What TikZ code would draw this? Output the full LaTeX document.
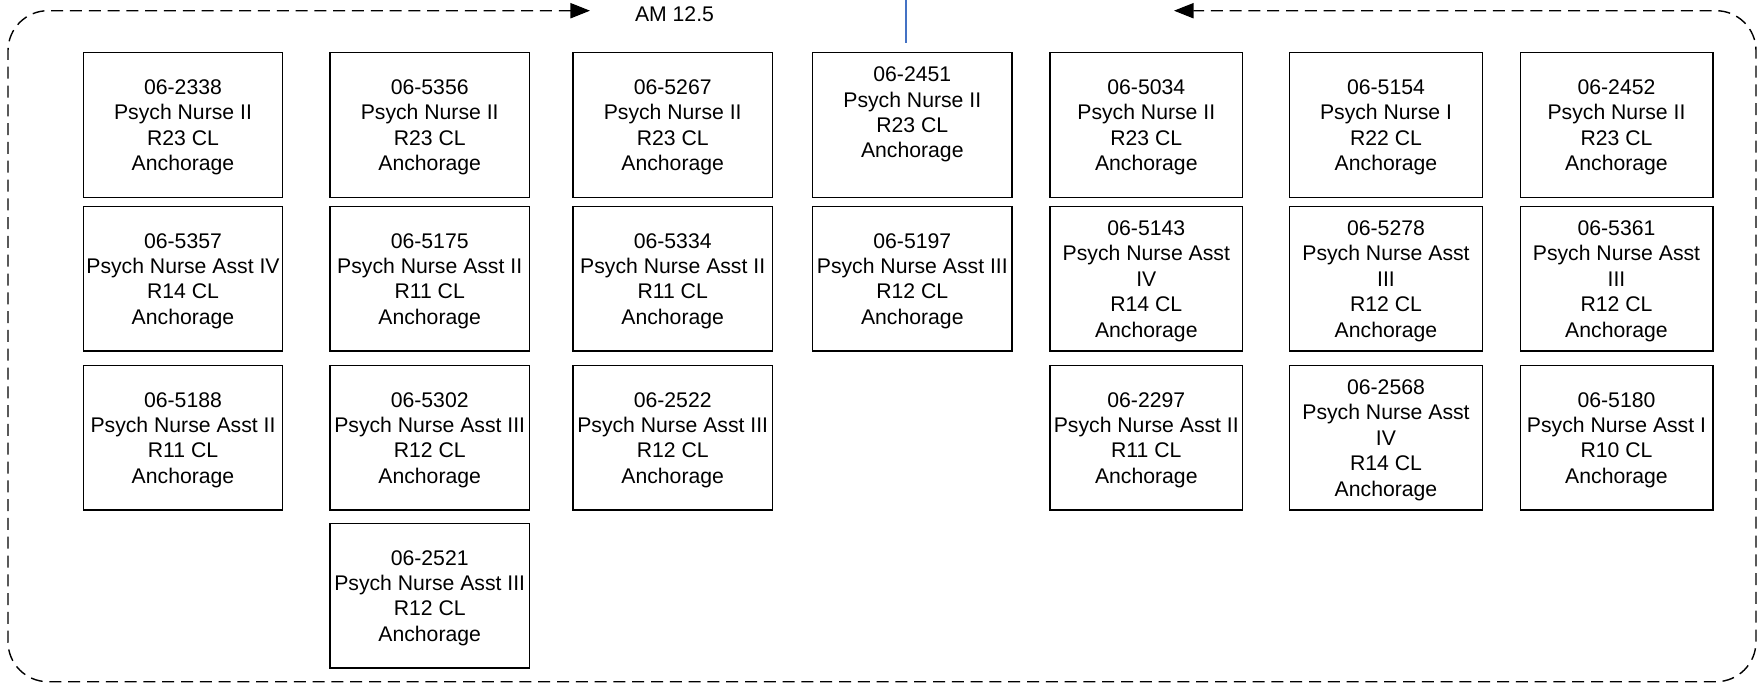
\documentclass[tikz,border=0pt]{standalone}
\usepackage{fontspec}
\setmainfont{Liberation Sans}
\usepackage{tikz}
\usetikzlibrary{shapes,arrows.meta}
\definecolor{feedBlue}{RGB}{68,114,196}
\definecolor{boxBlack}{RGB}{0,0,0}

\begin{document}
\begin{tikzpicture}[x=0.5pt, y=-0.5pt]%
  \tikzset{pos box/.style={draw=boxBlack, rectangle, line width=0.7pt, minimum width=99.7pt, minimum height=72.3pt, align=center, inner sep=0pt, text depth=0pt},
           narrow box/.style={pos box, minimum width=96.3pt},
           group line/.style={draw, dash pattern=on 6pt off 3.4pt, line width=0.7pt, rounded corners=20pt, {Triangle[length=9.8pt,width=7.6pt]}-{Triangle[length=9.8pt,width=7.6pt]}},
           feed line/.style={draw, feedBlue, line width=0.6pt}}
  \tikzstyle{every node}=[font=\fontsize{10.6pt}{12.7pt}\selectfont]

  \useasboundingbox (0,0) rectangle (1758,687);

  % column 1
  \node[pos box] at (183,125) (p2338) {06-2338\\Psych Nurse II\\R23 CL\\Anchorage};
  \node[pos box] at (183,278.8) (p5357) {06-5357\\Psych Nurse Asst IV\\R14 CL\\Anchorage};
  \node[pos box] at (183,437.8) (p5188) {06-5188\\Psych Nurse Asst II\\R11 CL\\Anchorage};

  % column 2
  \node[pos box] at (429.7,125) (p5356) {06-5356\\Psych Nurse II\\R23 CL\\Anchorage};
  \node[pos box] at (429.7,278.8) (p5175) {06-5175\\Psych Nurse Asst II\\R11 CL\\Anchorage};
  \node[pos box] at (429.7,437.8) (p5302) {06-5302\\Psych Nurse Asst III\\R12 CL\\Anchorage};
  \node[pos box] at (429.7,595.8) (p2521) {06-2521\\Psych Nurse Asst III\\R12 CL\\Anchorage};

  % column 3
  \node[pos box] at (672.7,125) (p5267) {06-5267\\Psych Nurse II\\R23 CL\\Anchorage};
  \node[pos box] at (672.7,278.8) (p5334) {06-5334\\Psych Nurse Asst II\\R11 CL\\Anchorage};
  \node[pos box] at (672.7,437.8) (p2522) {06-2522\\Psych Nurse Asst III\\R12 CL\\Anchorage};

  % column 4
  \node[pos box] at (912.3,125) (p2451) {06-2451\\Psych Nurse II\\R23 CL\\Anchorage\\~};
  \node[pos box] at (912.3,278.8) (p5197) {06-5197\\Psych Nurse Asst III\\R12 CL\\Anchorage};

  % column 5
  \node[narrow box] at (1146.3,125) (p5034) {06-5034\\Psych Nurse II\\R23 CL\\Anchorage};
  \node[narrow box] at (1146.3,278.8) (p5143) {06-5143\\Psych Nurse Asst\\IV\\R14 CL\\Anchorage};
  \node[narrow box] at (1146.3,437.8) (p2297) {06-2297\\Psych Nurse Asst II\\R11 CL\\Anchorage};

  % column 6
  \node[narrow box] at (1386,125) (p5154) {06-5154\\Psych Nurse I\\R22 CL\\Anchorage};
  \node[narrow box] at (1386,278.8) (p5278) {06-5278\\Psych Nurse Asst\\III\\R12 CL\\Anchorage};
  \node[narrow box] at (1386,437.8) (p2568) {06-2568\\Psych Nurse Asst\\IV\\R14 CL\\Anchorage};

  % column 7
  \node[narrow box] at (1616.5,125) (p2452) {06-2452\\Psych Nurse II\\R23 CL\\Anchorage};
  \node[narrow box] at (1616.5,278.8) (p5361) {06-5361\\Psych Nurse Asst\\III\\R12 CL\\Anchorage};
  \node[narrow box] at (1616.5,437.8) (p5180) {06-5180\\Psych Nurse Asst I\\R10 CL\\Anchorage};

  % group label and frame
  \node[anchor=base] at (674.5,21) (amlabel) {AM 12.5};
  \path[group line] (590,10.7) -- (8,10.7) -- (8,681.7) -- (1756,681.7) -- (1756,10.7) -- (1174,10.7);

  % incoming line
  \coordinate (feedtop) at (906,0);
  \path[feed line, shorten >=4.4pt] (feedtop) -- (feedtop |- p2451.north);
\end{tikzpicture}
\end{document}
